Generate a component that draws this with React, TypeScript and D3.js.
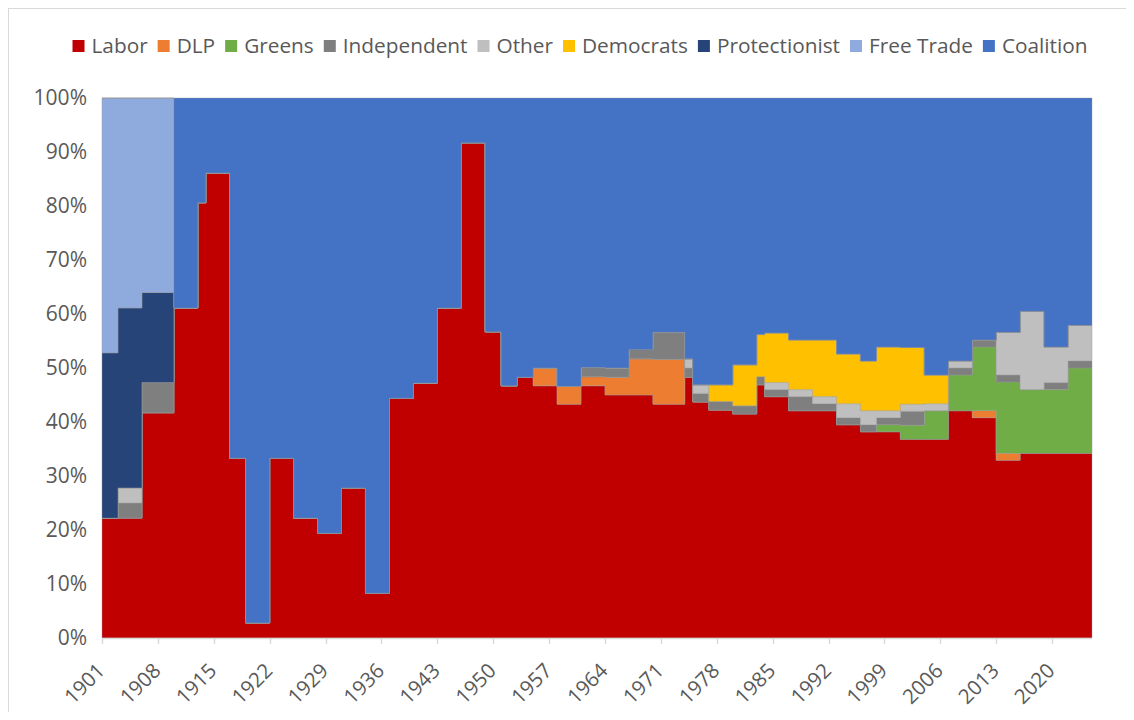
import React, { useEffect, useRef } from "react";
import * as d3 from "d3";

// Election years (x categories)
const years = [
  1901, 1903, 1906, 1910, 1913, 1914, 1917, 1919, 1922, 1925, 1928, 1931, 1934,
  1937, 1940, 1943, 1946, 1949, 1951, 1953, 1955, 1958, 1961, 1964, 1967, 1970,
  1974, 1975, 1977, 1980, 1983, 1984, 1987, 1990, 1993, 1996, 1998, 2001, 2004,
  2007, 2010, 2013, 2016, 2019, 2022,
];
const endYear = 2025;

// Seat shares (%) per series
const labor = [
  22.2, 22.2, 41.7, 61.1, 80.6, 86.1, 33.3, 2.8, 33.3, 22.2, 19.4, 27.8, 8.3,
  44.4, 47.2, 61.1, 91.7, 56.7, 46.7, 48.3, 46.7, 43.3, 46.7, 45.0, 45.0, 43.3,
  48.3, 43.7, 42.2, 41.5, 46.9, 44.7, 42.1, 42.1, 39.5, 38.2, 38.2, 36.8, 36.8,
  42.1, 40.8, 32.9, 34.2, 34.2, 34.2,
];
const dlp = [
  0, 0, 0, 0, 0, 0, 0, 0, 0, 0, 0, 0, 0,
  0, 0, 0, 0, 0, 0, 0, 3.3, 3.3, 1.7, 3.3, 6.7, 8.3,
  0, 0, 0, 0, 0, 0, 0, 0, 0, 0, 0, 0, 0,
  0, 1.3, 1.3, 0, 0, 0,
];
const greens = [
  0, 0, 0, 0, 0, 0, 0, 0, 0, 0, 0, 0, 0,
  0, 0, 0, 0, 0, 0, 0, 0, 0, 0, 0, 0, 0,
  0, 0, 0, 0, 0, 0, 0, 0, 0, 0, 1.3, 2.6, 5.3,
  6.6, 11.8, 13.2, 11.8, 11.8, 15.8,
];
const independent = [
  0, 2.8, 5.6, 0, 0, 0, 0, 0, 0, 0, 0, 0, 0,
  0, 0, 0, 0, 0, 0, 0, 0, 0, 1.7, 1.7, 1.7, 5.0,
  1.7, 1.6, 1.6, 1.5, 1.5, 1.3, 2.6, 1.3, 1.3, 1.3, 1.3, 2.6, 0,
  1.3, 1.3, 1.3, 0, 1.3, 1.3,
];
const other = [
  0, 2.8, 0, 0, 0, 0, 0, 0, 0, 0, 0, 0, 0,
  0, 0, 0, 0, 0, 0, 0, 0, 0, 0, 0, 0, 0,
  1.7, 1.6, 0, 0, 0, 1.3, 1.3, 1.3, 2.6, 2.6, 1.3, 1.3, 1.3,
  1.3, 0, 7.9, 14.5, 6.6, 6.6,
];
const democrats = [
  0, 0, 0, 0, 0, 0, 0, 0, 0, 0, 0, 0, 0,
  0, 0, 0, 0, 0, 0, 0, 0, 0, 0, 0, 0, 0,
  0, 0, 3.1, 7.6, 7.8, 9.2, 9.2, 10.5, 9.2, 9.2, 11.8, 10.5, 5.3,
  0, 0, 0, 0, 0, 0,
];
const protectionist = [
  30.6, 33.3, 16.7, 0, 0, 0, 0, 0, 0, 0, 0, 0, 0,
  0, 0, 0, 0, 0, 0, 0, 0, 0, 0, 0, 0, 0,
  0, 0, 0, 0, 0, 0, 0, 0, 0, 0, 0, 0, 0,
  0, 0, 0, 0, 0, 0,
];
const freeTrade = [
  47.2, 38.9, 36.0, 0, 0, 0, 0, 0, 0, 0, 0, 0, 0,
  0, 0, 0, 0, 0, 0, 0, 0, 0, 0, 0, 0, 0,
  0, 0, 0, 0, 0, 0, 0, 0, 0, 0, 0, 0, 0,
  0, 0, 0, 0, 0, 0,
];
const coalition = [
  0, 0, 0, 38.9, 19.4, 13.9, 66.7, 97.2, 66.7, 77.8, 80.6, 72.2, 91.7,
  55.6, 52.8, 38.9, 8.3, 43.3, 53.3, 51.7, 50.0, 53.4, 49.9, 50.0, 46.6, 43.4,
  48.3, 53.1, 53.1, 49.4, 43.8, 43.5, 44.8, 44.8, 47.4, 48.7, 46.1, 46.2, 51.3,
  48.7, 44.8, 43.4, 39.5, 46.1, 42.1,
];

const seriesNames = [
  "Labor", "DLP", "Greens", "Independent", "Other", "Democrats",
  "Protectionist", "Free Trade", "Coalition",
];
const seriesValues = [
  labor, dlp, greens, independent, other, democrats, protectionist, freeTrade, coalition,
];
const seriesColors = [
  "#C00000", "#ED7D31", "#70AD47", "#7F7F7F", "#BFBFBF", "#FFC000",
  "#264478", "#8FAADC", "#4472C4",
];
const yTickValues = [0, 0.1, 0.2, 0.3, 0.4, 0.5, 0.6, 0.7, 0.8, 0.9, 1];
const xTickYears = [1901, 1908, 1915, 1922, 1929, 1936, 1943, 1950, 1957, 1964, 1971, 1978, 1985, 1992, 1999, 2006, 2013, 2020];

const W = 1118;
const H = 704;
const M = { left: 94, right: 1084, top: 90, bottom: 630 };
const FONT = "'Open Sans', 'Noto Sans', sans-serif";
const TEXT = "#595959";

export default function App() {
  const ref = useRef<SVGSVGElement>(null);

  useEffect(() => {
    const svg = d3.select(ref.current);
    svg.selectAll("*").remove();

    // chart border (only top/left visible in viewport)
    svg.append("rect")
      .attr("x", 0.5).attr("y", 0.5)
      .attr("width", W + 20).attr("height", H + 20)
      .attr("fill", "white").attr("stroke", "#d9d9d9").attr("stroke-width", 1);

    const rows: any[] = years.map((yr, i) => {
      const r: any = { year: yr };
      seriesNames.forEach((n, k) => (r[n] = seriesValues[k][i]));
      return r;
    });
    const last = { ...rows[rows.length - 1], year: endYear };
    rows.push(last);

    const x = d3.scaleLinear().domain([years[0], endYear]).range([M.left, M.right]);
    const y = d3.scaleLinear().domain([0, 1]).range([M.bottom, M.top]);

    const stack = d3.stack<any>().keys(seriesNames).offset(d3.stackOffsetExpand);
    const stacked = stack(rows);

    const area = d3.area<any>()
      .x((d) => x(d.data.year))
      .y0((d) => y(d[0]))
      .y1((d) => y(d[1]))
      .curve(d3.curveStepAfter);

    const g = svg.append("g");
    g.selectAll("path.area")
      .data(stacked)
      .join("path")
      .attr("class", "area")
      .attr("d", area as any)
      .attr("fill", (_d, i) => seriesColors[i])
      .attr("stroke", "rgba(150,150,150,0.55)")
      .attr("stroke-width", 0.75);

    // x axis line and ticks
    svg.append("line")
      .attr("x1", M.left).attr("x2", M.right)
      .attr("y1", M.bottom + 0.5).attr("y2", M.bottom + 0.5)
      .attr("stroke", "#d9d9d9").attr("stroke-width", 1.5);
    svg.selectAll("line.xtick")
      .data(xTickYears)
      .join("line")
      .attr("class", "xtick")
      .attr("x1", (d) => Math.round(x(d)) + 0.5)
      .attr("x2", (d) => Math.round(x(d)) + 0.5)
      .attr("y1", M.bottom)
      .attr("y2", M.bottom + 6)
      .attr("stroke", "#d9d9d9").attr("stroke-width", 1.5);

    svg.selectAll("text.xlab")
      .data(xTickYears)
      .join("text")
      .attr("class", "xlab")
      .attr("transform", (d) => `translate(${x(d) - 1},${M.bottom + 29}) rotate(-45)`)
      .attr("text-anchor", "end")
      .attr("dy", "0.35em")
      .attr("font-family", FONT)
      .attr("font-size", 20.5)
      .attr("fill", TEXT)
      .text((d) => String(d));

    svg.selectAll("text.ylab")
      .data(yTickValues)
      .join("text")
      .attr("class", "ylab")
      .attr("x", 79)
      .attr("y", (d) => y(d))
      .attr("dy", "0.35em")
      .attr("text-anchor", "end")
      .attr("font-family", FONT)
      .attr("font-size", 21)
      .attr("fill", TEXT)
      .text((d) => d3.format(".0%")(d));

    // legend
    const lg = svg.append("g");
    const sq = 12;
    const gapSq = 7;
    const gapItem = 10;
    let cx = 0;
    seriesNames.forEach((n, i) => {
      const t = lg.append("text")
        .attr("font-family", FONT)
        .attr("font-size", 20.8)
        .attr("fill", TEXT)
        .attr("y", 38)
        .attr("dy", "0.35em")
        .text(n);
      const w = (t.node() as SVGTextElement).getComputedTextLength();
      t.attr("x", cx + sq + gapSq);
      lg.append("rect")
        .attr("x", cx).attr("y", 38 - sq / 2)
        .attr("width", sq).attr("height", sq)
        .attr("fill", seriesColors[i]);
      cx += sq + gapSq + w + gapItem;
    });
    const total = cx - gapItem;
    const startX = 572 - total / 2;
    lg.attr("transform", `translate(${startX},0)`);
  }, []);

  return (
    <svg
      ref={ref}
      width={W}
      height={H}
      style={{ display: "block", overflow: "visible" }}
    />
  );
}
